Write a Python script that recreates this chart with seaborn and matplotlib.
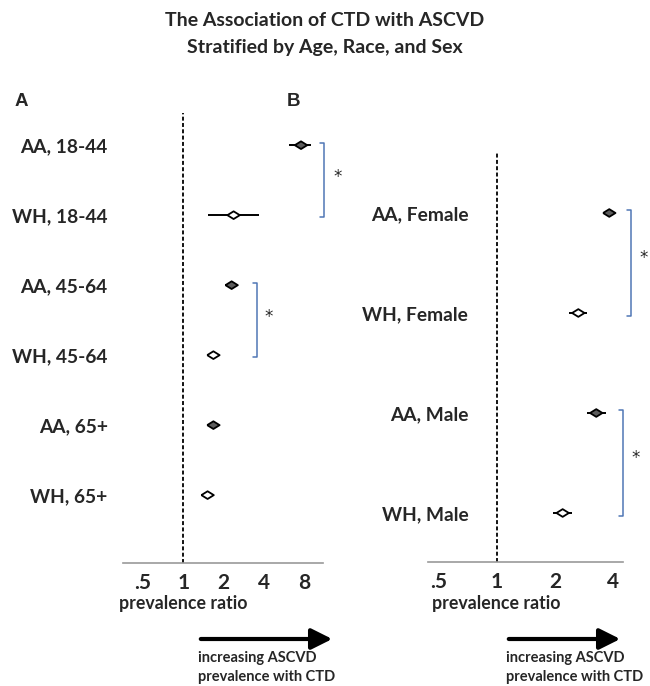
import numpy as np
import pandas as pd
import matplotlib
matplotlib.use("Agg")
import matplotlib.pyplot as plt
import matplotlib.transforms as mtransforms
import seaborn as sns

# data (prevalence ratio, 95% CI)
groups_a = ["AA, 18-44", "WH, 18-44", "AA, 45-64", "WH, 45-64", "AA, 65+", "WH, 65+"]
pr_a = [7.6, 2.38, 2.3, 1.68, 1.68, 1.52]
lo_a = [6.2, 1.54, 2.15, 1.6, 1.6, 1.45]
hi_a = [9.0, 3.67, 2.45, 1.78, 1.77, 1.6]

groups_b = ["AA, Female", "WH, Female", "AA, Male", "WH, Male"]
pr_b = [3.82, 2.64, 3.27, 2.19]
lo_b = [3.6, 2.37, 2.94, 1.96]
hi_b = [4.05, 2.94, 3.68, 2.46]

ticks_a = [0.5, 1, 2, 4, 8]
ticks_b = [0.5, 1, 2, 4]
tick_labels = [".5", "1", "2", "4", "8"]

# significant pairs (index of first member)
pairs_a = [0, 2]
pairs_b = [0, 2]

sns.set_style("white")
plt.rcParams["font.family"] = ["Lato", "DejaVu Sans"]
plt.rcParams["font.weight"] = "bold"

fig = plt.figure(figsize=(6.5, 6.86), dpi=100)
W, H = 650, 686


def px_axes(x0, x1, ytop, ybot):
    return fig.add_axes([x0 / W, (H - ybot) / H, (x1 - x0) / W, (ybot - ytop) / H])


diamond = [(-1, 0), (0, 0.62), (1, 0), (0, -0.62), (-1, 0)]
blue = "#4f76b5"


def panel(ax, groups, pr, lo, hi, ticks, xlim, ylim, pad, pairs, brk, star):
    df = pd.DataFrame({"group": groups, "pr": pr, "lo": lo, "hi": hi})
    df["pos"] = np.arange(len(df))
    df["race"] = df["group"].str[:2]
    ax.errorbar(df["pr"], df["pos"], xerr=[df["pr"] - df["lo"], df["hi"] - df["pr"]],
                fmt="none", ecolor="black", elinewidth=1.4, capsize=0, zorder=2)
    sns.scatterplot(data=df, x="pr", y="pos", hue="race",
                    palette={"AA": "#5c5c5c", "WH": "white"}, marker=diamond,
                    s=80, edgecolor="black", linewidth=1.3, legend=False, ax=ax, zorder=3)
    ax.axvline(1, color="black", ls=(0, (2.2, 1.3)), lw=1.3, zorder=1)
    ax.set_xscale("log", base=2)
    ax.set_xlim(*xlim)
    ax.set_ylim(*ylim)
    ax.minorticks_off()
    ax.tick_params(axis="y", length=0, pad=pad, labelsize=13.8)
    ax.tick_params(axis="x", length=3, width=1, color="#999999", pad=4,
                   direction="out", labelsize=15)
    ax.set_xticks(ticks)
    ax.set_xticklabels(tick_labels[:len(ticks)], fontsize=15, fontweight="bold")
    ax.set_yticks(df["pos"])
    ax.set_yticklabels(groups, fontsize=13.8, fontweight="bold")
    ax.set_xlabel("")
    ax.set_ylabel("")
    for s in ["top", "right", "left"]:
        ax.spines[s].set_visible(False)
    ax.spines["bottom"].set_color("#999999")
    ax.spines["bottom"].set_linewidth(1.2)
    trans = mtransforms.blended_transform_factory(ax.transAxes, ax.transData)
    for i, bx, sx in zip(pairs, brk, star):
        ax.plot([bx - 0.02, bx, bx, bx - 0.02], [i - 0.03, i - 0.03, i + 1.03, i + 1.03],
                color=blue, lw=1.1, transform=trans, clip_on=False)
        ax.text(sx, i + 0.45, "*", transform=trans, fontsize=12, ha="center",
                va="center", family="DejaVu Sans", fontweight="normal")


ax_a = px_axes(123, 323, 113, 563)
panel(ax_a, groups_a, pr_a, lo_a, hi_a, ticks_a, (0.354, 11.1), (5.97, -0.46), 11,
      pairs_a, [1.005, 0.67], [1.075, 0.73])

ax_b = px_axes(428, 623, 152, 562)
panel(ax_b, groups_b, pr_b, lo_b, hi_b, ticks_b, (0.439, 4.5), (3.49, -0.61), -29,
      pairs_b, [1.041, 1.0], [1.108, 1.067])

# axis captions and direction arrows
for cx, x0, x1 in [(183, 198, 335), (496, 506, 623)]:
    fig.text(cx / W, 1 - 603 / H, "prevalence ratio", ha="center", va="center",
             fontsize=12.8, fontweight="bold")
    fig.add_artist(matplotlib.patches.FancyArrowPatch(
        (x0 / W, 1 - 639 / H), (x1 / W, 1 - 639 / H), transform=fig.transFigure,
        arrowstyle="-|>,head_length=0.9,head_width=0.45", mutation_scale=14,
        lw=3, color="black"))
    fig.text(x0 / W, 1 - 658 / H, "increasing ASCVD", ha="left", va="center",
             fontsize=10.5, fontweight="bold")
    fig.text(x0 / W, 1 - 677 / H, "prevalence with CTD", ha="left", va="center",
             fontsize=10.5, fontweight="bold")

fig.text(325 / W, 1 - 21 / H, "The Association of CTD with ASCVD", ha="center",
         va="center", fontsize=14, fontweight="bold")
fig.text(325 / W, 1 - 47 / H, "Stratified by Age, Race, and Sex", ha="center",
         va="center", fontsize=14, fontweight="bold")
fig.text(21 / W, 1 - 101 / H, "A", ha="center", va="center", fontsize=13.5,
         fontweight="bold", family="Liberation Sans")
fig.text(293 / W, 1 - 101 / H, "B", ha="center", va="center", fontsize=13.5,
         fontweight="bold", family="Liberation Sans")

fig.savefig("out.png", dpi=100)
